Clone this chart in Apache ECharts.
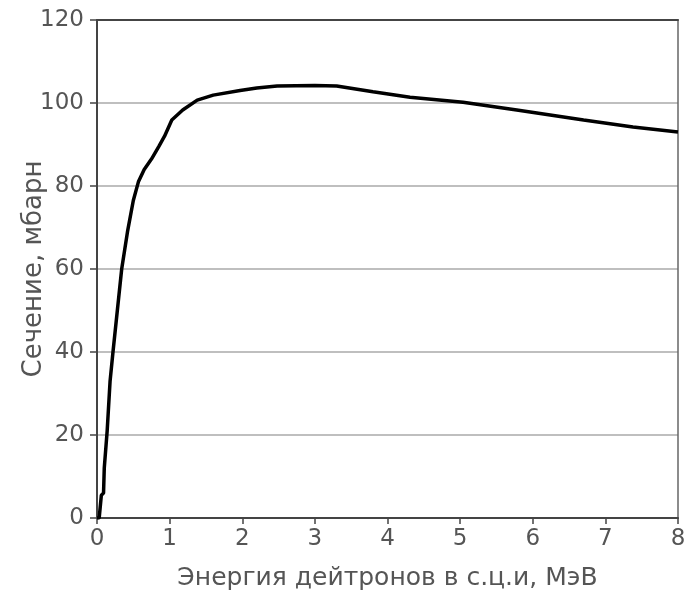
<!DOCTYPE html>
<html><head><meta charset="utf-8">
<script src="https://cdn.jsdelivr.net/npm/echarts@6/dist/echarts.min.js"></script>
<style>html,body{margin:0;padding:0;background:#fff}#c{width:697px;height:594px}</style>
</head><body><div id="c"></div>
<script>
const energy = [0, 0.03, 0.06, 0.09, 0.1, 0.14, 0.18, 0.22, 0.28, 0.34, 0.42, 0.5, 0.57, 0.65, 0.75, 0.85, 0.93, 1.03, 1.18, 1.38, 1.6, 1.97, 2.2, 2.48, 3.0, 3.3, 3.8, 4.31, 5.04, 5.78, 6.7, 7.38, 8.0];
const crossSection = [0, 0, 5.5, 6, 12, 21, 33, 40, 50, 60, 69, 76.5, 81, 84, 86.5, 89.5, 92, 95.9, 98.3, 100.7, 101.9, 103, 103.6, 104.1, 104.2, 104.1, 102.7, 101.4, 100.2, 98.3, 95.9, 94.2, 93];
const xTicks = [0, 1, 2, 3, 4, 5, 6, 7, 8];
const yTicks = [0, 20, 40, 60, 80, 100, 120];
const xTitle = 'Энергия дейтронов в с.ц.и, МэВ';
const yTitle = 'Сечение, мбарн';

const font = '"DejaVu Sans", sans-serif';
const textColor = '#555';
const chart = echarts.init(document.getElementById('c'));
chart.setOption({
  animation: false,
  grid: {left: 97, right: 19, top: 20, bottom: 76, containLabel: false, outerBoundsMode: 'none'},
  xAxis: [{
    type: 'value', min: xTicks[0], max: xTicks[xTicks.length-1], interval: 1,
    name: xTitle, nameLocation: 'middle', nameGap: 48, nameMoveOverlap: false,
    nameTextStyle: {fontFamily: font, fontSize: 25, color: textColor},
    axisLine: {show: true, lineStyle: {color: '#444', width: 2}},
    axisTick: {show: true, length: 6, lineStyle: {color: '#444', width: 1.5}},
    axisLabel: {fontFamily: font, fontSize: 23, color: textColor, margin: 10},
    splitLine: {show: false}
  }, {
    type: 'value', position: 'top', min: 0, max: 8,
    axisLine: {show: true, onZero: false, lineStyle: {color: '#444', width: 2}},
    axisTick: {show: false}, axisLabel: {show: false}, splitLine: {show: false}
  }],
  yAxis: [{
    type: 'value', min: yTicks[0], max: yTicks[yTicks.length-1], interval: 20,
    name: yTitle, nameLocation: 'middle', nameGap: 50, nameMoveOverlap: false,
    nameTextStyle: {fontFamily: font, fontSize: 26, color: textColor},
    axisLine: {show: true, lineStyle: {color: '#444', width: 2}},
    axisTick: {show: true, length: 7, lineStyle: {color: '#444', width: 1.5}},
    axisLabel: {fontFamily: font, fontSize: 23, color: textColor, margin: 13},
    splitLine: {show: true, lineStyle: {color: '#aaa', width: 1.5}}
  }, {
    type: 'value', position: 'right', min: 0, max: 120,
    axisLine: {show: true, onZero: false, lineStyle: {color: '#666', width: 1.5}},
    axisTick: {show: false}, axisLabel: {show: false}, splitLine: {show: false}
  }],
  series: [{
    type: 'line', xAxisIndex: 0, yAxisIndex: 0,
    data: energy.map((e, i) => [e, crossSection[i]]),
    showSymbol: false, smooth: false,
    lineStyle: {color: '#000', width: 3.5}
  }]
});
</script></body></html>
